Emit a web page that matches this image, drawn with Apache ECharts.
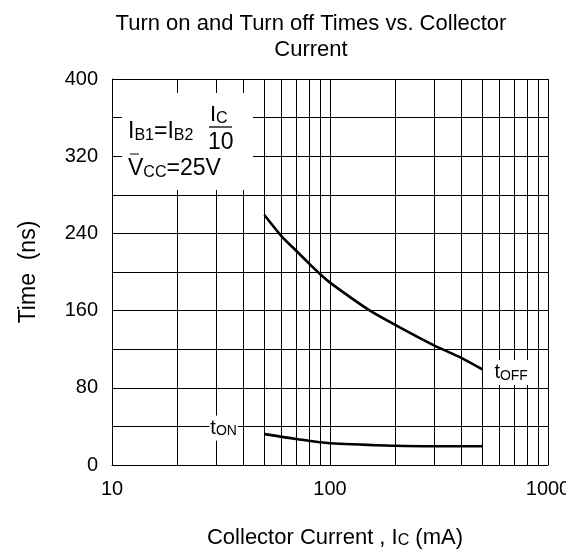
<!DOCTYPE html>
<html>
<head>
<meta charset="utf-8">
<script src="https://cdn.jsdelivr.net/npm/echarts@6/dist/echarts.min.js"></script>
<style>html,body{margin:0;padding:0;background:#fff}#c{width:566px;height:554px}</style>
</head>
<body>
<div id="c"></div>
<script>
const FONT = 'Liberation Sans, Arial, sans-serif';
const titleText = 'Turn on and Turn off Times vs. Collector\nCurrent';
const xTicks = [10, 100, 1000];
const xMinorGrid = [20, 30, 40, 50, 60, 70, 80, 90, 200, 300, 400, 500, 600, 700, 800, 900];
const yTickLabels = [0, 80, 160, 240, 320, 400];
const tOffCurrent = [50, 60, 70, 80, 90, 100, 150, 200, 300, 400, 500];
const tOffTime = [259, 237, 222, 209, 198, 189, 161, 145, 124, 111, 99];
const tOnCurrent = [50, 70, 100, 200, 300, 500];
const tOnTime = [32, 27, 22.5, 20, 19.5, 19.5];

const chart = echarts.init(document.getElementById('c'), null, {renderer: 'canvas'});
const pair = (xs, ys) => xs.map((x, i) => [x, ys[i]]);
const subRich = (size, pad) => ({s: {fontSize: size, fontFamily: FONT, color: '#000', verticalAlign: 'bottom', padding: [pad, 0, 0, 0]}});

chart.setOption({
  animation: false,
  backgroundColor: '#fff',
  title: {
    text: titleText, left: 306, top: 6, textAlign: 'center',
    textStyle: {fontFamily: FONT, fontSize: 22, fontWeight: 'normal', color: '#000', lineHeight: 26}
  },
  grid: {left: 112, right: 18, top: 79, bottom: 89, outerBoundsMode: 'none', containLabel: false},
  xAxis: {
    type: 'log', logBase: 10, min: xTicks[0], max: xTicks[xTicks.length - 1],
    axisLine: {show: true, lineStyle: {color: '#000', width: 1}},
    axisTick: {show: false},
    splitLine: {show: true, lineStyle: {color: '#000', width: 1}},
    axisLabel: {color: '#000', fontFamily: FONT, fontSize: 20, margin: 14, formatter: v => String(Math.round(v)), hideOverlap: false},
    name: 'Collector Current , I{s|C} (mA)',
    nameLocation: 'middle', nameGap: 62,
    nameTextStyle: {
      color: '#000', fontFamily: FONT, fontSize: 22, padding: [0, 0, 0, 10],
      rich: subRich(16, 6)
    }
  },
  yAxis: {
    type: 'value', min: 0, max: 400, interval: 40,
    axisLine: {show: true, lineStyle: {color: '#000', width: 1}},
    axisTick: {show: false},
    splitLine: {show: true, lineStyle: {color: '#000', width: 1}},
    axisLabel: {
      color: '#000', fontFamily: FONT, fontSize: 20, margin: 14,
      formatter: v => yTickLabels.includes(v) ? String(v) : ''
    },
    name: 'Time  (ns)', nameLocation: 'middle', nameGap: 72,
    nameTextStyle: {color: '#000', fontFamily: FONT, fontSize: 23}
  },
  series: [
    {
      type: 'line', name: 'grid', data: [], silent: true,
      markLine: {
        silent: true, symbol: 'none', animation: false,
        label: {show: false},
        lineStyle: {color: '#000', width: 1, type: 'solid'},
        data: xMinorGrid.map(v => ({xAxis: v}))
      }
    },
    {
      type: 'line', name: 'tOFF', data: pair(tOffCurrent, tOffTime),
      smooth: 0.3, showSymbol: false, symbol: 'none',
      lineStyle: {color: '#000', width: 2.6},
      endLabel: {
        show: true, distance: 10, offset: [0, 3], formatter: 't{s|OFF}', color: '#000',
        fontFamily: FONT, fontSize: 20, backgroundColor: '#fff', padding: [3, 2, 2, 2],
        rich: subRich(14, 6)
      },
      z: 5
    },
    {
      type: 'line', name: 'tON', data: pair(tOnCurrent, tOnTime),
      smooth: 0.3, showSymbol: false, symbol: 'none',
      lineStyle: {color: '#000', width: 2.6}, z: 5,
      markPoint: {
        symbol: 'rect', symbolSize: 1, silent: true,
        itemStyle: {color: 'rgba(0,0,0,0)'},
        data: [{coord: [tOnCurrent[0], tOnTime[0]]}],
        label: {
          show: true, position: 'left', distance: 24, offset: [-2, -6],
          formatter: 't{s|ON}', color: '#000', fontFamily: FONT, fontSize: 20,
          backgroundColor: '#fff', padding: [3, 1, 2, 1],
          rich: subRich(14, 6)
        }
      }
    }
  ],
  graphic: [
    {
      type: 'group', left: 122, top: 93, z: 100,
      children: [
        {type: 'rect', z: 100, shape: {x: 0, y: 0, width: 131, height: 97}, style: {fill: '#fff'}},
        {type: 'text', z: 101, x: 6, y: 27, style: {
          text: 'I{s|B1}=I{s|B2}', fontFamily: FONT, fontSize: 23, fill: '#000',
          rich: {s: {fontSize: 16, fontFamily: FONT, fill: '#000', verticalAlign: 'bottom', padding: [8, 0, 0, 0]}}
        }},
        {type: 'text', z: 101, x: 88, y: 10, style: {
          text: 'I{s|C}', fontFamily: FONT, fontSize: 22, fill: '#000',
          rich: {s: {fontSize: 16, fontFamily: FONT, fill: '#000', verticalAlign: 'bottom', padding: [8, 0, 0, 0]}}
        }},
        {type: 'line', z: 101, shape: {x1: 87, y1: 34, x2: 110, y2: 34}, style: {stroke: '#000', lineWidth: 1.3}},
        {type: 'text', z: 101, x: 86, y: 38, style: {text: '10', fontFamily: FONT, fontSize: 23, fill: '#000'}},
        {type: 'line', z: 101, shape: {x1: 8, y1: 61, x2: 17, y2: 61}, style: {stroke: '#000', lineWidth: 1}},
        {type: 'text', z: 101, x: 6, y: 64, style: {
          text: 'V{s|CC}=25V', fontFamily: FONT, fontSize: 23, fill: '#000',
          rich: {s: {fontSize: 16, fontFamily: FONT, fill: '#000', verticalAlign: 'bottom', padding: [8, 0, 0, 0]}}
        }}
      ]
    }
  ]
});
</script>
</body>
</html>
